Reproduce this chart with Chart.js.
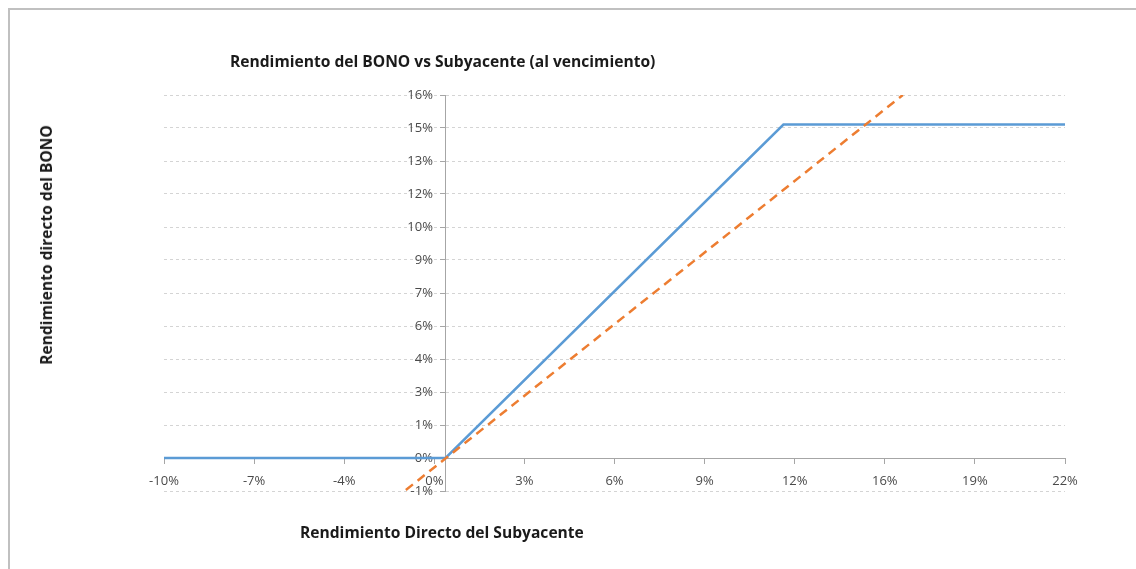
<!DOCTYPE html>
<html lang="es">
<head>
  <meta charset="UTF-8">
  <title>Rendimiento del BONO vs Subyacente</title>
  <script src="https://cdn.jsdelivr.net/npm/chart.js"></script>
  <style>
    body {
      margin: 0;
      background: #ffffff;
      font-family: 'Open Sans', sans-serif;
    }
    .wrap {
      position: relative;
      width: 1136px;
      height: 569px;
      overflow: hidden;
    }
    .frame {
      position: absolute;
      left: 8px;
      top: 8px;
      width: 1200px;
      height: 600px;
      border-left: 2px solid #c0c0c0;
      border-top: 2px solid #c0c0c0;
    }
    canvas {
      position: absolute;
      left: 0;
      top: 0;
    }
    .title, .xtitle, .ytitle {
      position: absolute;
      font-weight: 700;
      font-size: 15.6px;
      color: #1a1a1a;
      white-space: nowrap;
    }
    .title { left: 230px; top: 50px; }
    .xtitle { left: 300px; top: 521px; }
    .ytitle {
      left: 46px;
      top: 245px;
      transform: translate(-50%, -50%) rotate(-90deg);
    }
  </style>
</head>
<body>
  <div class="wrap">
    <div class="frame"></div>
    <canvas id="chart" width="1136" height="569"></canvas>
    <div class="title">Rendimiento del BONO vs Subyacente (al vencimiento)</div>
    <div class="ytitle">Rendimiento directo del BONO</div>
    <div class="xtitle">Rendimiento Directo del Subyacente</div>
  </div>

  <script>
    // rendimiento del subyacente (%) -> rendimiento del bono (%)
    const bonoX = [-10, 0, 12, 22];
    const bonoY = [0, 0, 14.7, 14.7];

    // referencia 1:1 (linea naranja discontinua)
    const refX = [-1.41, 16.24];
    const refY = [-1.41, 16];

    const xTickValues = [-10, -6.8, -3.6, -0.4, 2.8, 6, 9.2, 12.4, 15.6, 18.8, 22];
    const xTickLabels = ['-10%', '-7%', '-4%', '0%', '3%', '6%', '9%', '12%', '16%', '19%', '22%'];

    const yTickValues = [-1.4545, 0, 1.4545, 2.9091, 4.3636, 5.8182, 7.2727, 8.7273, 10.1818, 11.6364, 13.0909, 14.5455, 16];
    const yTickLabels = ['-1%', '0%', '1%', '3%', '4%', '6%', '7%', '9%', '10%', '12%', '13%', '15%', '16%'];

    const toPoints = (xs, ys) => xs.map((x, i) => ({ x: x, y: ys[i] }));

    const tickFont = { family: 'Open Sans', size: 13 };
    const tickColor = '#4a4a4a';
    const yMin = -1.4545, yMax = 16;

    new Chart(document.getElementById('chart'), {
      type: 'scatter',
      data: {
        datasets: [
          {
            label: 'Subyacente',
            data: toPoints(refX, refY),
            showLine: true,
            borderColor: '#ED7D31',
            borderWidth: 2.5,
            borderDash: [9, 6],
            pointRadius: 0
          },
          {
            label: 'BONO',
            data: toPoints(bonoX, bonoY),
            showLine: true,
            borderColor: '#5B9BD5',
            borderWidth: 2.5,
            pointRadius: 0
          }
        ]
      },
      options: {
        responsive: false,
        animation: false,
        layout: { padding: { left: 164, right: 71, top: 95, bottom: 78 } },
        plugins: {
          legend: { display: false },
          tooltip: { enabled: false }
        },
        scales: {
          x: {
            type: 'linear',
            min: -10,
            max: 22,
            position: { y: 0 },
            afterBuildTicks: s => { s.ticks = xTickValues.map(v => ({ value: v })); },
            ticks: {
              callback: (v, i) => xTickLabels[i],
              color: tickColor,
              font: tickFont,
              padding: 10,
              autoSkip: false,
              maxRotation: 0
            },
            grid: { drawOnChartArea: false, drawTicks: true, tickLength: 5, tickColor: '#a6a6a6' },
            border: { color: '#a6a6a6', width: 1 }
          },
          y: {
            type: 'linear',
            min: yMin,
            max: yMax,
            position: { x: 0 },
            afterBuildTicks: s => { s.ticks = yTickValues.map(v => ({ value: v })); },
            ticks: { display: false },
            grid: {
              color: ctx => (ctx.tick && ctx.tick.value === 0) ? 'rgba(0,0,0,0)' : '#d4d4d4',
              lineWidth: 1,
              drawTicks: true,
              tickLength: 5,
              tickColor: '#a6a6a6'
            },
            border: { color: '#a6a6a6', width: 1, dash: [3, 3] }
          },
          // eje auxiliar solo para las etiquetas del eje Y, algo a la izquierda del eje
          yLabels: {
            type: 'linear',
            min: yMin,
            max: yMax,
            position: { x: -0.45 },
            afterBuildTicks: s => { s.ticks = yTickValues.map(v => ({ value: v })); },
            ticks: {
              callback: (v, i) => yTickLabels[i],
              color: tickColor,
              font: tickFont,
              autoSkip: false
            },
            grid: { display: false },
            border: { display: false }
          }
        }
      }
    });
  </script>
</body>
</html>
